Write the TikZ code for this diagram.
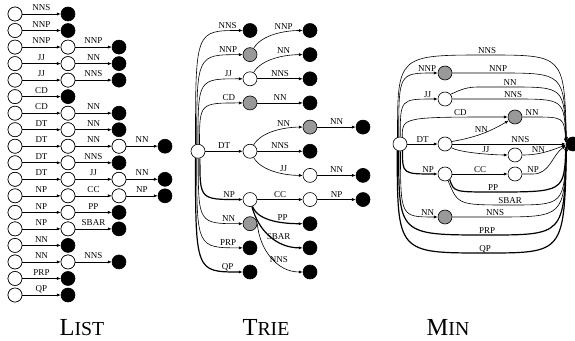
\documentclass[tikz,border=0pt]{standalone}
\usepackage{fontspec}
\setmainfont{Liberation Serif}
\usetikzlibrary{arrows.meta,calc}
\newcommand\capsc[2]{{\fontsize{24.5}{24.5}\selectfont #1}{\fontsize{19.8}{19.8}\selectfont #2}}
\begin{document}
\begin{tikzpicture}[x=1pt,y=1pt,
  st/.style={circle,draw,line width=0.6pt,minimum size=14pt,inner sep=0pt,fill=white},
  fin/.style={st,fill=black},
  gr/.style={st,fill=black!40},
  e/.style={-{Latex[length=3.8pt,width=3.1pt]},line width=0.6pt},
  tk/.style={e,line width=1.2pt},
  lb/.style={font=\fontsize{9}{10}\selectfont,inner sep=0pt,anchor=base},
  ll/.style={lb,yshift=3.3pt},
  tl/.style={lb,yshift=2.4pt},
  ml/.style={lb,yshift=1.2pt}]
\useasboundingbox (0,0) rectangle (575,340);

% ---------------- LIST ----------------
\foreach \row [count=\i from 0] in {{NNS},{NNP},{NNP,NNP},{JJ,NN},{JJ,NNS},{CD},{CD,NN},{DT,NN},{DT,NN,NN},{DT,NNS},{DT,JJ,NN},{NP,CC,NP},{NP,PP},{NP,SBAR},{NN},{NN,NNS},{PRP},{QP}}{
  \pgfmathsetmacro\yy{326-16.53*\i}
  \node[st] (L\i-0) at (15,\yy) {};
  \foreach \lab [count=\j] in \row {
    \pgfmathtruncatemacro\jm{\j-1}
    \pgfmathsetmacro\xa{{15,68,119,165}[\jm]}
    \pgfmathsetmacro\xb{{15,68,119,165}[\j]}
    \node[st] (L\i-\jm) at (\xa,\yy) {};
    \node[fin] (L\i-\j) at (\xb,\yy) {};
    \draw[e] (L\i-\jm) -- (L\i-\j) node[ll,midway]{\lab};
  }
}

% ---------------- TRIE ----------------
\node[st]  (tr) at (198,188.75) {};
\node[fin] (t1) at (250,309.5) {};
\node[gr]  (t2) at (250,285.35) {};
\node[st]  (t3) at (250,261.2) {};
\node[gr]  (t4) at (250,237.05) {};
\node[st]  (t5) at (250,188.75) {};
\node[st]  (t6) at (250,140.45) {};
\node[gr]  (t7) at (250,116.3) {};
\node[fin] (t8) at (250,92.15) {};
\node[fin] (t9) at (250,68) {};
\node[fin] (u1) at (310,309.5) {};
\node[fin] (u2) at (310,285.35) {};
\node[fin] (u3) at (310,261.2) {};
\node[fin] (u4) at (310,237.05) {};
\node[gr]  (u5) at (310,212.9) {};
\node[fin] (u6) at (310,188.75) {};
\node[st]  (u7) at (310,164.6) {};
\node[st]  (u8) at (310,140.45) {};
\node[fin] (u9) at (310,116.3) {};
\node[fin] (u10) at (310,92.15) {};
\node[fin] (u11) at (310,68) {};
\node[fin] (v1) at (363,212.9) {};
\node[fin] (v2) at (363,164.6) {};
\node[fin] (v3) at (363,140.45) {};

\draw[e] (tr.110) .. controls (tr.110 |- t1) and (tr.110 |- t1) .. (t1) node[tl,pos=.88]{NNS};
\draw[e] (tr.100) .. controls (tr.100 |- t2) and (tr.100 |- t2) .. (t2) node[tl,pos=.88]{NNP};
\draw[e] (tr.90) .. controls (tr.90 |- t3) and (tr.90 |- t3) .. (t3) node[tl,pos=.88]{JJ};
\draw[e] (tr.78) .. controls (tr.78 |- t4) and (tr.78 |- t4) .. (t4) node[tl,pos=.88]{CD};
\draw[e] (tr) -- (t5) node[tl,midway]{DT};
\draw[tk] (tr.-75) .. controls (tr.-75 |- t6) and (tr.-75 |- t6) .. (t6) node[tl,pos=.88]{NP};
\draw[e] (tr.-88) .. controls (tr.-88 |- t7) and (tr.-88 |- t7) .. (t7) node[tl,pos=.88]{NN};
\draw[e] (tr.-100) .. controls (tr.-100 |- t8) and (tr.-100 |- t8) .. (t8) node[tl,pos=.88]{PRP};
\draw[tk] (tr.-110) .. controls (tr.-110 |- t9) and (tr.-110 |- t9) .. (t9) node[tl,pos=.88]{QP};

\draw[e] (t2) to[out=60,in=180,looseness=.8] node[tl,pos=.65]{NNP} (u1);
\draw[e] (t3) to[out=60,in=180,looseness=.8] node[tl,pos=.65]{NN} (u2);
\draw[e] (t3) -- (u3) node[tl,midway]{NNS};
\draw[e] (t4) -- (u4) node[tl,midway]{NN};
\draw[e] (t5) to[out=60,in=180,looseness=.8] node[tl,pos=.65]{NN} (u5);
\draw[e] (t5) -- (u6) node[tl,midway]{NNS};
\draw[e] (t5) to[out=-60,in=180,looseness=.8] node[tl,pos=.65]{JJ} (u7);
\draw[e] (t6) -- (u8) node[tl,midway]{CC};
\draw[tk] (t6) to[out=-70,in=180,looseness=.8] node[tl,pos=.65]{PP} (u9);
\draw[tk] (t6) to[out=-75,in=180] node[tl,pos=.65]{SBAR} (u10);
\draw[e] (t7.east) to[out=-85,in=180] node[tl,pos=.65]{NNS} (u11);
\draw[e] (u5) -- (v1) node[tl,midway]{NN};
\draw[e] (u7) -- (v2) node[tl,midway]{NN};
\draw[e] (u8) -- (v3) node[tl,midway]{NP};

% ---------------- MIN ----------------
\node[st]  (mr) at (400,196) {};
\node[fin] (ms) at (573,196) {};
\node[gr]  (ma) at (445,267) {};
\node[st]  (mb) at (445,241) {};
\node[gr]  (mc) at (515,223) {};
\node[st]  (md) at (445,196) {};
\node[st]  (me) at (515,185) {};
\node[st]  (mf) at (445,166) {};
\node[st]  (mg) at (515,166) {};
\node[gr]  (mh) at (445,123) {};

\draw[e] (mr.110) .. controls (397.5,285) and (397.5,285) .. (487,285) node[ml]{NNS}
   .. controls (564,285) and (564,285) .. (ms.153);
\draw[e] (mr.100) .. controls (398.7,267) and (398.7,267) .. (ma) node[ml,pos=.9]{NNP};
\draw[e] (mr.88) .. controls (400.3,241) and (400.3,241) .. (mb) node[ml,pos=.9]{JJ};
\draw[e] (mr.72) .. controls (402.3,223) and (402.3,223) .. (mc) node[ml,pos=.82]{CD};
\draw[e] (mr) -- (md) node[ml,midway]{DT};
\draw[tk] (mr.290) .. controls (402.5,166) and (402.5,166) .. (mf) node[ml,pos=.9]{NP};
\draw[e] (mr.274) .. controls (400.5,123) and (400.5,123) .. (mh) node[ml,pos=.9]{NN};
\draw[tk] (mr.260) .. controls (398.7,105) and (398.7,105) .. (487,105) node[ml]{PRP}
   .. controls (564,105) and (564,105) .. (ms.204);
\draw[tk] (mr.248) .. controls (397.3,87) and (397.3,87) .. (485,87) node[ml]{QP}
   .. controls (564,87) and (564,87) .. (ms.207);

\draw[e] (ma) -- (498,267) node[ml]{NNP} .. controls (564,267) and (564,267) .. (ms.157);
\draw[e] (mb.40) to[out=25,in=180] (478,253) -- (510,253) node[ml]{NN}
   .. controls (564,253) and (564,253) .. (ms.161);
\draw[e] (mb) -- (513,241) node[ml]{NNS} .. controls (564,241) and (564,241) .. (ms.165);
\draw[e] (mc) -- (532,223) node[ml]{NN} .. controls (564,223) and (564,223) .. (ms.170);
\draw[e] (md) -- (ms) node[ml,pos=.6]{NNS};
\draw[e] (md.20) to[out=10,in=210] node[ml,pos=.5]{NN} (mc);
\draw[e] (md.-30) to[out=-30,in=180,looseness=.5] node[ml,pos=.6]{JJ} (me);
\draw[e] (me) to[out=0,in=200] node[ml,pos=.35]{NN} (ms.188);
\draw[e] (mf) -- (mg) node[ml,midway]{CC};
\draw[e] (mg) -- (533,166) node[ml]{NP} to[out=0,in=215] (ms.192);
\draw[tk] (mf.-50) .. controls (454,148) and (454,148) .. (493,148) node[ml]{PP}
   .. controls (564,148) and (564,148) .. (ms.195);
\draw[e] (mf.-65) .. controls (458,135) and (458,135) .. (510,135) node[ml]{SBAR}
   .. controls (564,135) and (564,135) .. (ms.198);
\draw[e] (mh) -- (495,123) node[ml]{NNS} .. controls (564,123) and (564,123) .. (ms.201);

% ---------------- captions ----------------
\node[anchor=base] (capL) at (82,4.5) {\capsc{L}{IST}};
\node[anchor=base] (capT) at (266,4.5) {\capsc{T}{RIE}};
\node[anchor=base] (capM) at (448,4.5) {\capsc{M}{IN}};
\end{tikzpicture}
\end{document}
